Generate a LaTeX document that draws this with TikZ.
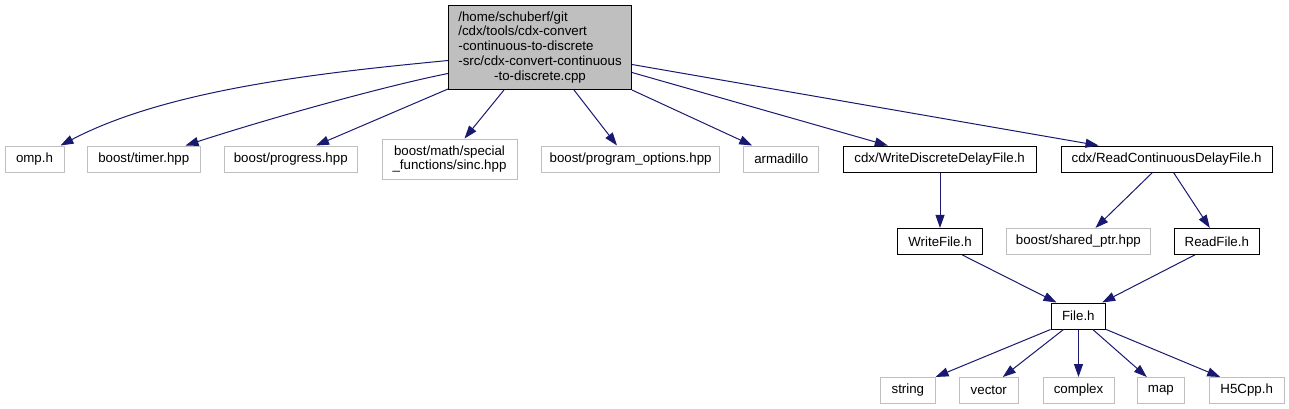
\documentclass[tikz,border=0pt]{standalone}
\usepackage{fontspec}
\setmainfont{Liberation Sans}
\usetikzlibrary{arrows.meta,calc}
\definecolor{edgeblue}{HTML}{191970}
\definecolor{sysgray}{HTML}{BFBFBF}
\definecolor{mainfill}{HTML}{BFBFBF}
\begin{document}
\begin{tikzpicture}[x=1pt,y=-1pt,
  every node/.style={font=\fontsize{13.3}{14.8}\selectfont},
  box/.style={draw, line width=1pt, inner sep=0pt, minimum height=26pt, align=center},
  sysbox/.style={box, draw=sysgray},
  projbox/.style={box, draw=black},
  mainbox/.style={box, draw=black, fill=mainfill},
  dep/.style={draw=edgeblue, line width=1pt, -{Triangle[length=13pt,width=9pt,fill=edgeblue]}}
]
\fill[white] (0,0) rectangle (1289,409);
\useasboundingbox (0,0) rectangle (1289,409);

% main node
\node[mainbox, minimum width=183pt, minimum height=83.5pt] (main) at (540,47.75)
  {\begin{tabular}{@{}l@{}}/home/schuberf/git\\/cdx/tools/cdx-convert\\-continuous-to-discrete\\-src/cdx-convert-continuous\\\multicolumn{1}{@{}c@{}}{-to-discrete.cpp}\end{tabular}};

% row 1
\node[sysbox, minimum width=59pt] (omp) at (34.5,159) {omp.h};
\node[sysbox, minimum width=112.5pt] (timer) at (143.75,159) {boost/timer.hpp};
\node[sysbox, minimum width=133.5pt] (progress) at (290.75,159) {boost/progress.hpp};
\node[sysbox, minimum width=135pt, minimum height=40pt] (sinc) at (449.5,159) {boost/math/special\\\_functions/sinc.hpp};
\node[sysbox, minimum width=178.2pt] (progopts) at (630.6,159) {boost/program\_options.hpp};
\node[sysbox, minimum width=75pt] (arma) at (781.25,159) {armadillo};
\node[projbox, minimum width=192.7pt] (wddf) at (939.65,159) {cdx/WriteDiscreteDelayFile.h};
\node[projbox, minimum width=211.3pt] (rcdf) at (1166.65,159) {cdx/ReadContinuousDelayFile.h};

% row 2
\node[projbox, minimum width=85.4pt] (writefile) at (940,241.4) {WriteFile.h};
\node[sysbox, minimum width=143.3pt] (shared) at (1078.35,241.4) {boost/shared\_ptr.hpp};
\node[projbox, minimum width=85pt] (readfile) at (1216.8,241.4) {ReadFile.h};

% row 3
\node[projbox, minimum width=54.7pt] (file) at (1078.35,316) {File.h};

% row 4
\node[sysbox, minimum width=54.3pt] (string) at (907.85,390.5) {string};
\node[sysbox, minimum width=59pt] (vector) at (988.8,390.5) {vector};
\node[sysbox, minimum width=71pt] (complex) at (1078.5,390.5) {complex};
\node[sysbox, minimum width=46.3pt] (map) at (1160.85,390.5) {map};
\node[sysbox, minimum width=74.7pt] (h5) at (1246.65,390.5) {H5Cpp.h};

% edges from main
\draw[dep] ($(main.north west)+(0,55)$) .. controls (330,72) and (170,88) .. ($(omp.north east)+(-4,0)$);
\draw[dep] ($(main.north west)+(0,68)$) .. controls (390,85) and (280,115) .. ($(timer.north east)+(-15,0)$);
\draw[dep] ($(main.south west)+(0,-1)$) -- ($(progress.north east)+(-42,0)$);
\draw[dep] ($(main.south west)+(56,0)$) -- ($(sinc.north)+(15,0)$);
\draw[dep] ($(main.south west)+(126,0)$) -- ($(progopts.north west)+(76,0)$);
\draw[dep] (main.south east) -- ($(arma.north west)+(9,0)$);
\draw[dep] ($(main.north east)+(0,67)$) -- ($(wddf.north west)+(45,0)$);
\draw[dep] ($(main.north east)+(0,59)$) -- ($(rcdf.north west)+(38,0)$);

% second level
\draw[dep] (writefile.north |- wddf.south) -- (writefile.north);
\draw[dep] ($(rcdf.south west)+(92,0)$) -- ($(shared.north east)+(-55,0)$);
\draw[dep] ($(rcdf.south west)+(113,0)$) -- ($(readfile.north west)+(36,0)$);

% third level
\draw[dep] ($(writefile.south east)+(-21,0)$) -- ($(file.north west)+(6,0)$);
\draw[dep] ($(readfile.south west)+(21,0)$) -- ($(file.north east)+(-4,0)$);

% File.h deps
\draw[dep] (file.south west) -- (string.north east);
\draw[dep] ($(file.south west)+(13,0)$) -- ($(vector.north west)+(44,0)$);
\draw[dep] (file.south -| complex.north) -- (complex.north);
\draw[dep] ($(file.south east)+(-13.4,0)$) -- ($(map.north west)+(9.6,0)$);
\draw[dep] (file.south east) -- ($(h5.north west)+(11.4,0)$);
\end{tikzpicture}
\end{document}
